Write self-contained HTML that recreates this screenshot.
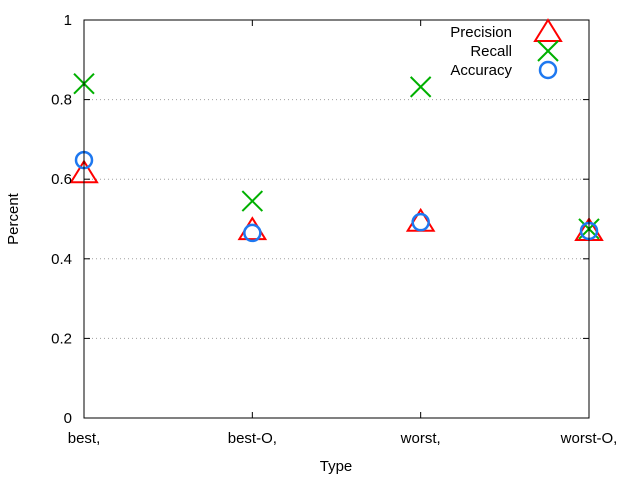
<!DOCTYPE html>
<html><head><meta charset="utf-8"><style>
body{margin:0;background:#fff}
svg{display:block;font-family:"Liberation Sans",sans-serif;font-size:15px}
</style></head><body>
<svg id="chart" width="640" height="480">
<g id="grid"></g><g id="marks"></g><g id="axes"></g>
</svg>
<script>
const categories=["best,","best-O,","worst,","worst-O,"];
const precision=[0.615,0.472,0.493,0.470];
const recall=[0.840,0.545,0.832,0.475];
const accuracy=[0.648,0.465,0.492,0.470];
const yTicks=[0,0.2,0.4,0.6,0.8,1];
const yTickLabels=["0","0.2","0.4","0.6","0.8","1"];

const NS="http://www.w3.org/2000/svg";
const L=84,R=589,T=20,B=418;
const x=i=>L+(R-L)*i/(categories.length-1);
const y=v=>B-(B-T)*v;
function mk(tag,attrs,parent,text){const e=document.createElementNS(NS,tag);for(const k in attrs)e.setAttribute(k,attrs[k]);if(text!==undefined)e.textContent=text;parent.appendChild(e);return e;}
const grid=document.getElementById('grid'),marks=document.getElementById('marks'),axes=document.getElementById('axes');
yTicks.forEach((v,i)=>{
  if(v>0&&v<1){const g=mk('line',{x1:L,x2:R,y1:y(v),y2:y(v),stroke:'#a0a0a0','stroke-dasharray':'1,3'},grid);
  
  }
  const t=mk('text',{x:L-12,y:y(v)+5,'text-anchor':'end'},axes,yTickLabels[i]);
  
  
  mk('line',{x1:L,x2:L+6,y1:y(v),y2:y(v),stroke:'#000'},axes);
  mk('line',{x1:R,x2:R-6,y1:y(v),y2:y(v),stroke:'#000'},axes);
});
categories.forEach((c,i)=>{
  const t=mk('text',{x:x(i),y:B+25,'text-anchor':'middle'},axes,c);
  
  
  mk('line',{x1:x(i),x2:x(i),y1:B,y2:B-6,stroke:'#000'},axes);
  mk('line',{x1:x(i),x2:x(i),y1:T,y2:T+6,stroke:'#000'},axes);
});
const frame=mk('rect',{x:L,y:T,width:R-L,height:B-T,fill:'none',stroke:'#000'},axes);


const yt=mk('text',{x:18,y:219,'text-anchor':'middle',transform:'rotate(-90 18 219)'},axes,'Percent');


const xt=mk('text',{x:336,y:471,'text-anchor':'middle'},axes,'Type');



function tri(cx,cy,p){return mk('polygon',{points:`${cx},${cy-12} ${cx-13},${cy+9} ${cx+13},${cy+9}`,fill:'none',stroke:'#f00','stroke-width':2},p);}
function cross(cx,cy,p){const g=mk('g',{stroke:'#00b000','stroke-width':2},p);mk('line',{x1:cx-10,y1:cy-10,x2:cx+10,y2:cy+10},g);mk('line',{x1:cx-10,y1:cy+10,x2:cx+10,y2:cy-10},g);return g;}
function circ(cx,cy,p){return mk('circle',{cx:cx,cy:cy,r:8,fill:'none',stroke:'#1e78f0','stroke-width':2.5},p);}
categories.forEach((c,i)=>{
  const a=tri(x(i),y(precision[i]),marks);
  
  
  const b=cross(x(i),y(recall[i]),marks);
  
  
  const d=circ(x(i),y(accuracy[i]),marks);
  
  
});
const leg=mk('g',{},axes);


[['Precision',tri,32],['Recall',cross,51],['Accuracy',circ,70]].forEach(([n,f,ly])=>{
  const t=mk('text',{x:512,y:ly+5,'text-anchor':'end'},leg,n);
  
  
  f(548,ly,leg);
});
</script>
</body></html>
